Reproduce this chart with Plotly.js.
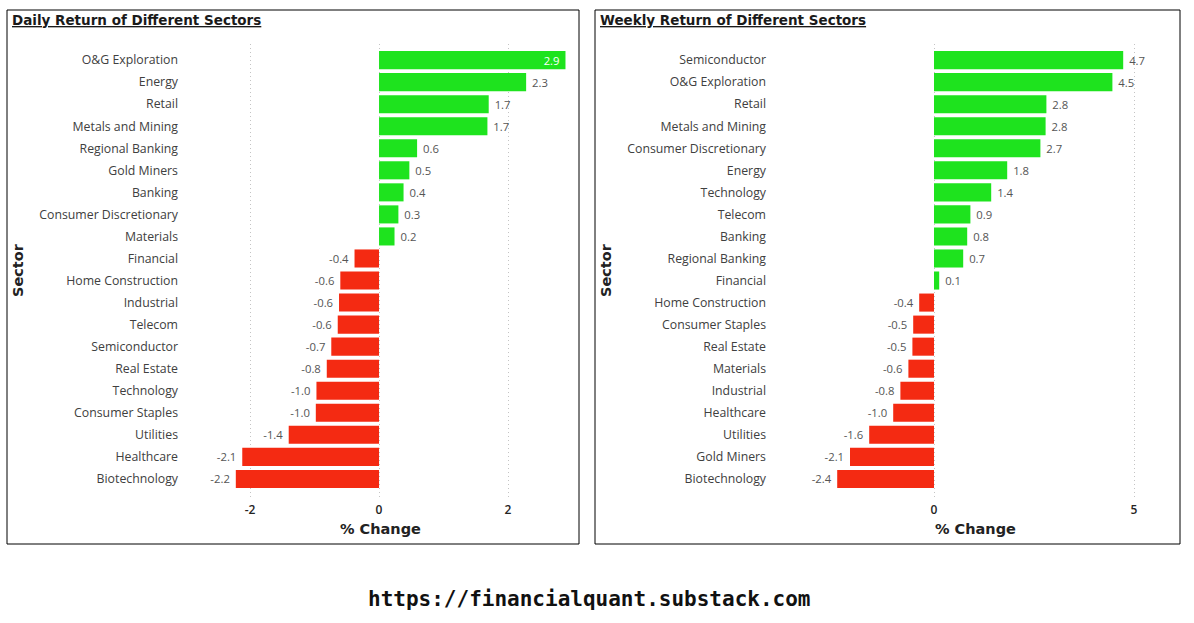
<!DOCTYPE html>
<html>
<head>
<meta charset="utf-8">
<script src="https://cdn.plot.ly/plotly-3.0.1.min.js"></script>
<style>
  html, body { margin: 0; padding: 0; background: #ffffff; }
  #chart { width: 1194px; height: 623px; }
</style>
</head>
<body>
<div id="chart"></div>
<script>
// ---------- data ----------
const dailySectors = ["O&G Exploration", "Energy", "Retail", "Metals and Mining", "Regional Banking",
  "Gold Miners", "Banking", "Consumer Discretionary", "Materials", "Financial", "Home Construction",
  "Industrial", "Telecom", "Semiconductor", "Real Estate", "Technology", "Consumer Staples",
  "Utilities", "Healthcare", "Biotechnology"];
const dailyReturns = [2.89, 2.28, 1.70, 1.68, 0.59, 0.47, 0.38, 0.30, 0.24, -0.38, -0.60,
  -0.62, -0.64, -0.74, -0.81, -0.97, -0.98, -1.40, -2.12, -2.22];

const weeklySectors = ["Semiconductor", "O&G Exploration", "Retail", "Metals and Mining",
  "Consumer Discretionary", "Energy", "Technology", "Telecom", "Banking", "Regional Banking",
  "Financial", "Home Construction", "Consumer Staples", "Real Estate", "Materials", "Industrial",
  "Healthcare", "Utilities", "Gold Miners", "Biotechnology"];
const weeklyReturns = [4.73, 4.46, 2.81, 2.79, 2.66, 1.83, 1.43, 0.91, 0.83, 0.73, 0.13,
  -0.37, -0.52, -0.54, -0.64, -0.84, -1.02, -1.62, -2.10, -2.42];

const dailyTicks = [-2, 0, 2];
const weeklyTicks = [0, 5];

// ---------- styling ----------
const W = 1194, H = 623;
const px = v => v / W;
const py = v => 1 - v / H;
const GREEN = "#1EE31E";
const RED = "#F42A12";
const NB = "\u00a0";
const dailyRange = [-2.93, 2.96];
const weeklyRange = [-3.9, 5.9];
const yRange = [19.82, -0.73];
const yDomain = [py(497), py(44)];

function makeTrace(cats, vals, range, xa, ya) {
  const inside = vals.map(v => v > range[1] - 0.35);
  return {
    type: "bar",
    orientation: "h",
    y: cats,
    x: vals,
    xaxis: xa,
    yaxis: ya,
    marker: { color: vals.map(v => v >= 0 ? GREEN : RED) },
    text: vals.map((v, i) => inside[i] ? v.toFixed(1) + NB : (v >= 0 ? NB + v.toFixed(1) : v.toFixed(1) + NB)),
    textposition: inside.map(f => f ? "inside" : "outside"),
    insidetextanchor: "end",
    constraintext: "none",
    cliponaxis: false,
    textfont: {
      family: "Open Sans, Noto Sans, sans-serif",
      size: 11.3,
      color: inside.map(f => f ? "#ffffff" : "#555555")
    },
    hoverinfo: "x+y"
  };
}

const traces = [
  makeTrace(dailySectors, dailyReturns, dailyRange, "x", "y"),
  makeTrace(weeklySectors, weeklyReturns, weeklyRange, "x2", "y2")
];

function xAxis(domain, range, ticks, anchor) {
  return {
    domain: domain,
    range: range,
    anchor: anchor,
    tickmode: "array",
    tickvals: ticks,
    ticktext: ticks.map(String),
    showgrid: true,
    gridcolor: "#c4c4c4",
    griddash: "1px,3px",
    gridwidth: 1,
    zeroline: false,
    showline: false,
    ticks: "",
    ticklabelstandoff: 4,
    tickfont: { family: "Open Sans, Noto Sans, sans-serif", size: 12, color: "#252423", weight: 600 },
    fixedrange: true
  };
}

function yAxis(cats, anchor) {
  return {
    domain: yDomain,
    anchor: anchor,
    type: "category",
    categoryorder: "array",
    categoryarray: cats,
    range: yRange,
    showgrid: false,
    zeroline: false,
    showline: false,
    ticks: "",
    ticklabelstandoff: 11,
    tickfont: { family: "Open Sans, Noto Sans, sans-serif", size: 12.3, color: "#404040" },
    fixedrange: true
  };
}

const titleFont = { family: "DejaVu Sans, sans-serif", size: 13.5, color: "#1a1a1a" };
const axTitleFont = { family: "DejaVu Sans, sans-serif", size: 14.5, color: "#222222", weight: 700 };

const layout = {
  width: W,
  height: H,
  margin: { l: 0, r: 0, t: 0, b: 0 },
  paper_bgcolor: "#ffffff",
  plot_bgcolor: "#ffffff",
  showlegend: false,
  bargap: 0.18,
  xaxis: xAxis([px(190), px(570)], dailyRange, dailyTicks, "y"),
  yaxis: yAxis(dailySectors, "x"),
  xaxis2: xAxis([px(778), px(1170)], weeklyRange, weeklyTicks, "y2"),
  yaxis2: yAxis(weeklySectors, "x2"),
  shapes: [
    { type: "rect", xref: "paper", yref: "paper", x0: px(7), x1: px(579), y0: py(544), y1: py(10),
      line: { color: "#000000", width: 1 } },
    { type: "rect", xref: "paper", yref: "paper", x0: px(595), x1: px(1180), y0: py(544), y1: py(10),
      line: { color: "#000000", width: 1 } }
  ],
  annotations: [
    { text: "<b><u>Daily Return of Different Sectors</u></b>", xref: "paper", yref: "paper",
      x: px(10), y: py(20), xanchor: "left", yanchor: "middle", showarrow: false, font: titleFont },
    { text: "<b><u>Weekly Return of Different Sectors</u></b>", xref: "paper", yref: "paper",
      x: px(598), y: py(20), xanchor: "left", yanchor: "middle", showarrow: false, font: titleFont },
    { text: "Sector", xref: "paper", yref: "paper", x: px(18), y: py(270), textangle: -90,
      xanchor: "center", yanchor: "middle", showarrow: false, font: axTitleFont },
    { text: "Sector", xref: "paper", yref: "paper", x: px(606), y: py(270), textangle: -90,
      xanchor: "center", yanchor: "middle", showarrow: false, font: axTitleFont },
    { text: "% Change", xref: "paper", yref: "paper", x: px(380), y: py(529),
      xanchor: "center", yanchor: "middle", showarrow: false, font: axTitleFont },
    { text: "% Change", xref: "paper", yref: "paper", x: px(975), y: py(529),
      xanchor: "center", yanchor: "middle", showarrow: false, font: axTitleFont },
    { text: "https://financialquant.substack.com", xref: "paper", yref: "paper", x: px(589), y: py(599),
      xanchor: "center", yanchor: "middle", showarrow: false,
      font: { family: "Comic Sans MS, DejaVu Sans Mono, monospace", size: 21, color: "#111111", weight: 700 } }
  ]
};

Plotly.newPlot("chart", traces, layout, { displayModeBar: false, staticPlot: true });
</script>
</body>
</html>
